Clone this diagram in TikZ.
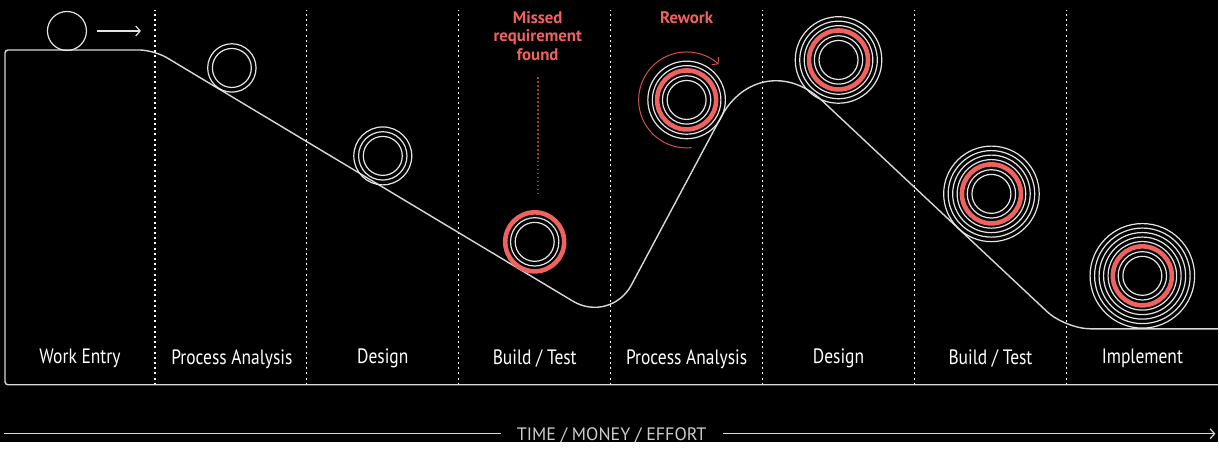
\documentclass[tikz,border=0pt]{standalone}
\usepackage{fontspec}
\setmainfont[FakeStretch=0.84]{PT Sans}
\newfontfamily\plainsans{PT Sans}
\usetikzlibrary{arrows.meta}
\definecolor{ringred}{HTML}{F0625F}
\definecolor{arcred}{HTML}{D2504C}
\definecolor{dotred}{HTML}{A83C3C}
\definecolor{trackgray}{HTML}{D8D8D8}
\begin{document}
\begin{tikzpicture}[x=0.5pt,y=0.5pt,
    ring/.style={draw=white!90!black,line width=0.6pt},
    redring/.style={draw=ringred,line width=2.3pt},
    track/.style={draw=trackgray,line width=0.7pt},
    sep/.style={white,line width=0.6pt,dash pattern=on 1pt off 1.6pt},
    stage/.style={text=white,font=\fontsize{10.4}{12}\selectfont},
    note/.style={text=ringred,font=\plainsans\fontsize{8.4}{9.3}\selectfont\bfseries,align=center},
    barb/.style={-{Straight Barb[length=2.2pt,width=5pt]}}]
    \fill[black] (0,0) rectangle (1219,442);
    % columns
    \foreach \x in {155,307,...,1067}
        \draw[sep] (\x,57) -- (\x,432);
    \foreach \x/\t [count=\i] in {80/{Work Entry},232/{Process Analysis},383/{Design},535/{Build / Test},
                                  687/{Process Analysis},839/{Design},991/{Build / Test},1143/{Implement}}
        \node[stage] (stage\i) at (\x,83) {\t};
    % track and frame
    \draw[track] (1219,57) [rounded corners=1.5pt] -- (5,57) -- (5,392)
        [rounded corners=7.5pt] -- (154,392) [rounded corners=22pt] -- (611,118)
        [rounded corners=42pt] -- (761,399) [rounded corners=12.5pt] -- (1066,113) -- (1219,113);
    % balls
    \coordinate (b1) at (67,411);
    \coordinate (b2) at (232,374);
    \coordinate (b3) at (383,286);
    \coordinate (b4) at (535,200);
    \coordinate (b5) at (687,342);
    \coordinate (b6) at (839,382);
    \coordinate (b7) at (992,248);
    \coordinate (b8) at (1143,166);
    \draw[ring] (b1) circle[radius=19.5];
    \foreach \c in {b2,b3,b4,b5,b6,b7,b8}
        \foreach \r in {19.5,24.2}
            \draw[ring] (\c) circle[radius=\r];
    \draw[ring] (b3) circle[radius=29];
    \foreach \c in {b4,b5,b6,b7,b8}
        \draw[redring] (\c) circle[radius=29.5];
    \foreach \c/\m in {b5/1,b6/2,b7/3,b8/4}
        \foreach \k in {0,...,\m}
            \draw[ring] (\c) circle[radius=34.3+4.5*\k];
    % roll arrow
    \coordinate (a0) at (97,411);
    \coordinate (a1) at (141,411);
    \draw[white!90!black,line width=0.6pt,barb] (a0) -- (a1);
    % missed requirement
    \node[note] (missed) at (538,406) {Missed\\requirement\\found};
    \coordinate (m0) at (538,365);
    \coordinate (m1) at (538,248);
    \draw[dotred,line width=0.9pt,dash pattern=on 0.8pt off 1.2pt] (m0) -- (m1);
    % rework
    \node[note] (rework) at (687,424) {Rework};
    \draw[arcred,line width=0.5pt,barb] ([shift={(-84:48)}]b5) arc[start angle=-84,end angle=-312,radius=48];
    % axis
    \node[text=white!80!black,font=\plainsans\fontsize{9}{10}\selectfont,anchor=base,inner xsep=8pt] (axis) at (612,1) {TIME / MONEY / EFFORT};
    \coordinate (ax0) at (4,8);
    \coordinate (ax1) at (1216,8);
    \draw[white!85!black,line width=0.6pt] (ax0) -- (ax0 -| axis.west);
    \draw[white!85!black,line width=0.6pt,barb] (ax1 -| axis.east) -- (ax1);
\end{tikzpicture}
\end{document}
